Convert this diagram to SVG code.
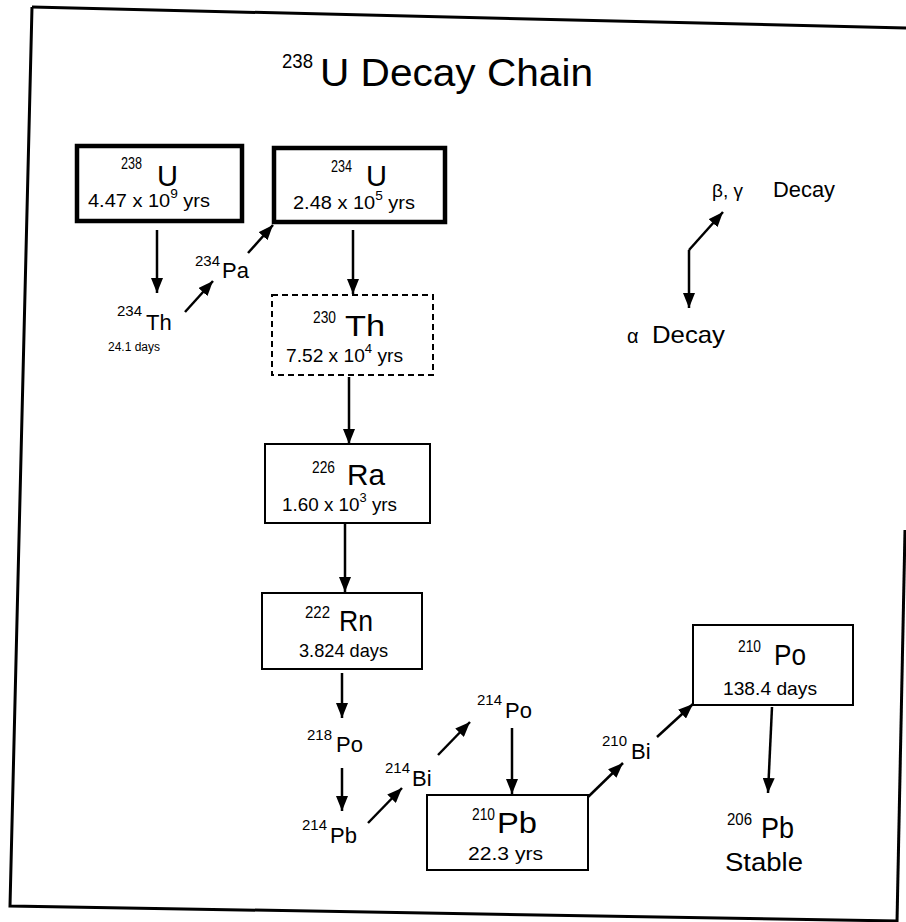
<svg xmlns="http://www.w3.org/2000/svg" width="906" height="922" viewBox="0 0 906 922">
<defs>
<marker id="ah" markerUnits="userSpaceOnUse" markerWidth="15" markerHeight="12" refX="15" refY="6" orient="auto">
<path d="M0,0 L15,6 L0,12 z" fill="#000"/>
</marker>
<style>
text{font-family:"Liberation Sans",Arial,sans-serif;fill:#000}
.sym{font-size:30px}
.sup{font-size:16px}
.hl{font-size:19px}
.ssym{font-size:22px}
.ssup{font-size:15px}
.box{fill:#fff;stroke:#000;stroke-width:2}
.thick{fill:#fff;stroke:#000;stroke-width:4.5}
.dash{fill:#fff;stroke:#000;stroke-width:2;stroke-dasharray:6,4}
.arr{fill:none;stroke:#000;stroke-width:2.5;marker-end:url(#ah)}
.frame{fill:none;stroke:#000;stroke-width:3}
</style>
</defs>
<rect width="906" height="922" fill="#fff"/>
<g id="frame">
<path class="frame" d="M32,7 L906,28"/>
<path class="frame" d="M32,7 L10,906 L898,921"/>
<path class="frame" d="M905,530 L897,922"/>
</g>
<g id="title">
<text x="282" y="68" style="font-size:21px" textLength="31" lengthAdjust="spacingAndGlyphs">238</text>
<text x="320" y="86" style="font-size:38px" textLength="273" lengthAdjust="spacingAndGlyphs">U Decay Chain</text>
</g>
<g id="connectors">
<path class="arr" d="M157,230 L157,293"/>
<path class="arr" d="M185,312 L213,281"/>
<path class="arr" d="M248,253 L273,225"/>
<path class="arr" d="M353,230 L353,294"/>
<path class="arr" d="M349,377 L349,444"/>
<path class="arr" d="M345,524 L345,592"/>
<path class="arr" d="M342,673 L342,718"/>
<path class="arr" d="M342,768 L342,811"/>
<path class="arr" d="M368,823 L402,788"/>
<path class="arr" d="M438,755 L470,722"/>
<path class="arr" d="M512,728 L512,794"/>
<path class="arr" d="M588,797 L623,763"/>
<path class="arr" d="M657,737 L693,704"/>
<path class="arr" d="M772,707 L768,793"/>
<path class="arr" d="M689,250 L689,308"/>
<path class="arr" d="M689,250 L723,212"/>
</g>
<g id="n238U">
<rect class="thick" x="77" y="146" width="165" height="75"/>
<text class="sup" x="121" y="169" textLength="21" lengthAdjust="spacingAndGlyphs">238</text>
<text class="sym" x="157" y="186" textLength="21" lengthAdjust="spacingAndGlyphs">U</text>
<text class="hl" x="88" y="207" textLength="122" lengthAdjust="spacingAndGlyphs">4.47 x 10<tspan dy="-9" style="font-size:13px">9</tspan><tspan dy="9"> yrs</tspan></text>
</g>
<g id="n234U">
<rect class="thick" x="274" y="148" width="171" height="74"/>
<text class="sup" x="331" y="172" textLength="21" lengthAdjust="spacingAndGlyphs">234</text>
<text class="sym" x="366" y="186" textLength="21" lengthAdjust="spacingAndGlyphs">U</text>
<text class="hl" x="293" y="209" textLength="122" lengthAdjust="spacingAndGlyphs">2.48 x 10<tspan dy="-9" style="font-size:13px">5</tspan><tspan dy="9"> yrs</tspan></text>
</g>
<g id="n234Th">
<text class="ssup" x="117" y="316">234</text>
<text class="ssym" x="146" y="330">Th</text>
<text x="108" y="351" style="font-size:12px">24.1 days</text>
</g>
<g id="n234Pa">
<text class="ssup" x="195" y="266">234</text>
<text class="ssym" x="222" y="278">Pa</text>
</g>
<g id="n230Th">
<rect class="dash" x="272" y="295" width="161" height="80"/>
<text class="sup" x="313" y="323" textLength="23" lengthAdjust="spacingAndGlyphs">230</text>
<text class="sym" x="345" y="336" textLength="40" lengthAdjust="spacingAndGlyphs">Th</text>
<text class="hl" x="286" y="362" textLength="117" lengthAdjust="spacingAndGlyphs">7.52 x 10<tspan dy="-9" style="font-size:13px">4</tspan><tspan dy="9"> yrs</tspan></text>
</g>
<g id="n226Ra">
<rect class="box" x="265" y="444" width="165" height="79"/>
<text class="sup" x="312" y="473" textLength="23" lengthAdjust="spacingAndGlyphs">226</text>
<text class="sym" x="347" y="485" textLength="38" lengthAdjust="spacingAndGlyphs">Ra</text>
<text class="hl" x="282" y="511" textLength="115" lengthAdjust="spacingAndGlyphs">1.60 x 10<tspan dy="-9" style="font-size:13px">3</tspan><tspan dy="9"> yrs</tspan></text>
</g>
<g id="n222Rn">
<rect class="box" x="262" y="593" width="160" height="76"/>
<text class="sup" x="305" y="618" textLength="25" lengthAdjust="spacingAndGlyphs">222</text>
<text class="sym" x="339" y="631" textLength="34" lengthAdjust="spacingAndGlyphs">Rn</text>
<text class="hl" x="299" y="657" textLength="89" lengthAdjust="spacingAndGlyphs">3.824 days</text>
</g>
<g id="n218Po">
<text class="ssup" x="307" y="740">218</text>
<text class="ssym" x="336" y="752">Po</text>
</g>
<g id="n214Pb">
<text class="ssup" x="302" y="830">214</text>
<text class="ssym" x="330" y="843">Pb</text>
</g>
<g id="n214Bi">
<text class="ssup" x="385" y="773">214</text>
<text class="ssym" x="412" y="786">Bi</text>
</g>
<g id="n214Po">
<text class="ssup" x="477" y="705">214</text>
<text class="ssym" x="505" y="718">Po</text>
</g>
<g id="n210Pb">
<rect class="box" x="427" y="795" width="161" height="75"/>
<text class="sup" x="472" y="820" textLength="23" lengthAdjust="spacingAndGlyphs">210</text>
<text class="sym" x="497" y="833" textLength="40" lengthAdjust="spacingAndGlyphs">Pb</text>
<text class="hl" x="468" y="860" textLength="75" lengthAdjust="spacingAndGlyphs">22.3  yrs</text>
</g>
<g id="n210Bi">
<text class="ssup" x="602" y="746">210</text>
<text class="ssym" x="631" y="759">Bi</text>
</g>
<g id="n210Po">
<rect class="box" x="693" y="625" width="160" height="80"/>
<text class="sup" x="738" y="652" textLength="23" lengthAdjust="spacingAndGlyphs">210</text>
<text class="sym" x="774" y="665" textLength="32" lengthAdjust="spacingAndGlyphs">Po</text>
<text class="hl" x="723" y="695" textLength="94" lengthAdjust="spacingAndGlyphs">138.4 days</text>
</g>
<g id="n206Pb">
<text class="sup" x="727" y="825" textLength="25" lengthAdjust="spacingAndGlyphs">206</text>
<text class="sym" x="761" y="838" textLength="33" lengthAdjust="spacingAndGlyphs">Pb</text>
<text x="725" y="871" style="font-size:25px" textLength="78" lengthAdjust="spacingAndGlyphs">Stable</text>
</g>
<g id="legend">
<text x="712" y="197" style="font-size:19px">β, γ</text>
<text x="773" y="197" style="font-size:22px" textLength="62" lengthAdjust="spacingAndGlyphs">Decay</text>
<text x="627" y="343" style="font-size:20px">α</text>
<text x="652" y="343" style="font-size:24px" textLength="73" lengthAdjust="spacingAndGlyphs">Decay</text>
</g>
</svg>
